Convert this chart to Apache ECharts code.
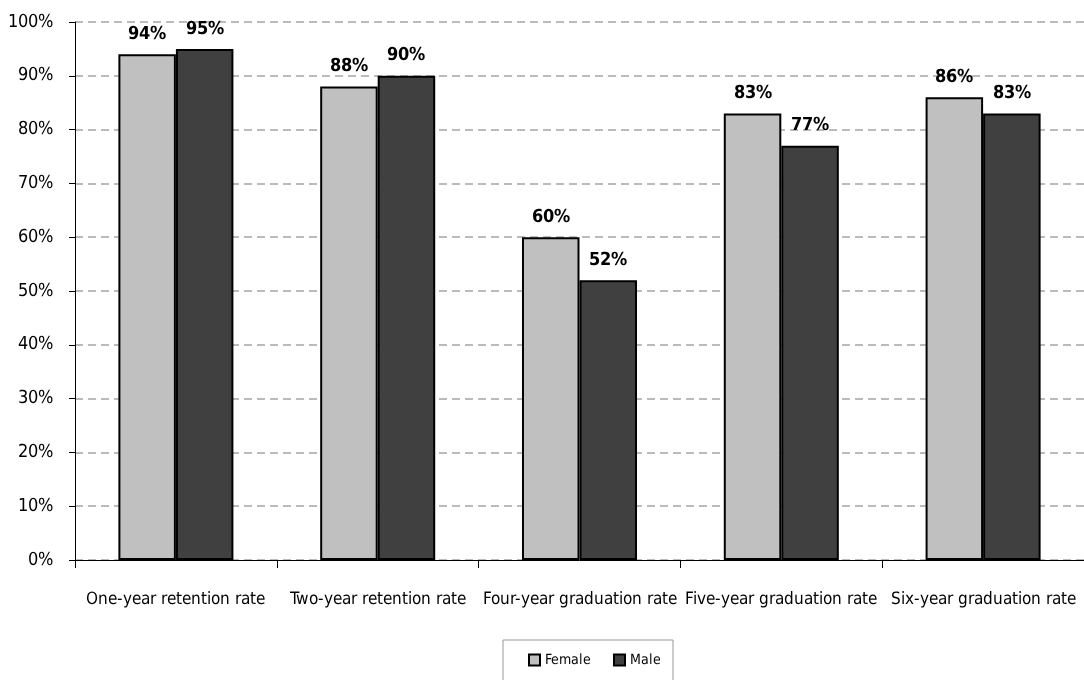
<!DOCTYPE html>
<html><head><meta charset="utf-8">
<script src="https://cdn.jsdelivr.net/npm/echarts@6/dist/echarts.min.js"></script>
<style>
@font-face{font-family:'CondX';font-weight:400;src:local('Liberation Sans Narrow'),local('LiberationSansNarrow'),local('LiberationSansNarrow-Regular'),local('DejaVu Sans Condensed'),local('DejaVuSansCondensed');}
@font-face{font-family:'CondX';font-weight:700;src:local('Liberation Sans Narrow Bold'),local('LiberationSansNarrow-Bold'),local('DejaVu Sans Condensed Bold'),local('DejaVuSansCondensed-Bold');}
html,body{margin:0;padding:0;background:#fff}#c{width:1084px;height:680px}</style>
</head><body><div id="c"></div>
<script>
const categories = ["One-year retention rate","Two-year retention rate","Four-year graduation rate","Five-year graduation rate","Six-year graduation rate"];
const female = [94, 88, 60, 83, 86];
const male = [95, 90, 52, 77, 83];
const yTicks = [0,10,20,30,40,50,60,70,80,90,100];
const FONT = "CondX, 'Liberation Sans Narrow', 'DejaVu Sans Condensed', sans-serif";
function draw(){
const chart = echarts.init(document.getElementById('c'));
const lbl = {show:true, position:'top', distance:11, formatter:'{c}%', fontFamily:FONT, fontWeight:'bold', fontSize:18, color:'#000'};
chart.setOption({
  animation:false,
  textStyle:{fontFamily:FONT},
  grid:{left:75, top:22, width:1020, height:538, containLabel:false},
  legend:{top:640, left:503, icon:'rect', itemWidth:11, itemHeight:11, itemGap:22, borderColor:'#999', borderWidth:1, padding:[13,12,20,25],
    textStyle:{fontFamily:FONT, fontSize:14, color:'#000'}, data:['Female','Male']},
  xAxis:{type:'category', data:categories,
    axisLine:{lineStyle:{color:'#000', width:1}},
    axisTick:{show:true, length:8, lineStyle:{color:'#000'}},
    axisLabel:{interval:0, fontFamily:FONT, fontSize:17, color:'#000', margin:31}},
  yAxis:{type:'value', min:0, max:100, interval:10,
    axisLine:{show:true, lineStyle:{color:'#000'}},
    axisTick:{show:true, length:6, lineStyle:{color:'#000'}},
    axisLabel:{fontFamily:FONT, fontSize:18, color:'#000', margin:22, formatter:v=>v+'%'},
    splitLine:{lineStyle:{color:'#bbbbbb', type:[8,5], width:2}}},
  series:[
    {name:'Female', type:'bar', data:female, barGap:'0%', barCategoryGap:'43%',
     itemStyle:{color:'#c0c0c0', borderColor:'#000', borderWidth:2}, label:lbl},
    {name:'Male', type:'bar', data:male,
     itemStyle:{color:'#404040', borderColor:'#000', borderWidth:2}, label:lbl}
  ]
});
}
Promise.all([document.fonts.load("400 17px CondX"), document.fonts.load("700 18px CondX")]).then(draw, draw);
</script></body></html>
